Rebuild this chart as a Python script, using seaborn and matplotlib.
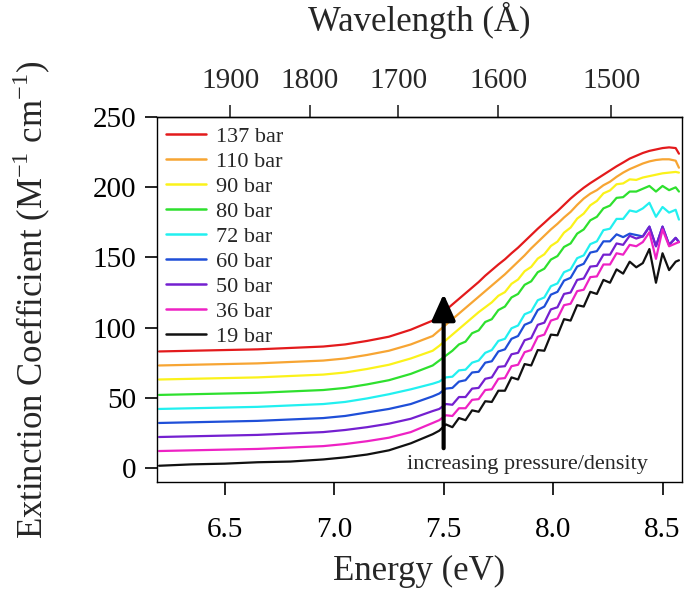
import numpy as np
import pandas as pd
import seaborn as sns
import matplotlib
matplotlib.use("Agg")
import matplotlib.pyplot as plt

# photon energy grid (eV)
energy = [6.20, 6.35, 6.50, 6.65, 6.80, 6.95, 7.05, 7.15, 7.25, 7.35,
          7.45, 7.48, 7.51, 7.54, 7.57, 7.60, 7.63, 7.66, 7.69, 7.72,
          7.75, 7.78, 7.81, 7.84, 7.87, 7.90, 7.93, 7.96, 7.99, 8.02,
          8.05, 8.08, 8.11, 8.14, 8.17, 8.20, 8.23, 8.26, 8.29, 8.32,
          8.35, 8.38, 8.41, 8.44, 8.47, 8.50, 8.53, 8.56, 8.575]

# extinction coefficient (M^-1 cm^-1), one list per pressure
eps_137 = [83, 83.5, 84, 84.5, 85.5, 86.5, 88, 90.5, 93.5, 98.5,
           105, 108.5, 112.5, 116.5, 120.5, 124.5, 128.5, 132.5, 137, 141,
           145, 148.7, 153, 157, 161.5, 166, 170.5, 174.7, 179, 183,
           187.5, 192, 196, 199.7, 203, 206, 209, 212, 215, 217.7,
           220.5, 222.5, 224.5, 226, 227, 228, 228.5, 228, 224]
eps_110 = [73, 73.5, 74, 74.5, 75.5, 76.5, 78, 80.5, 83.5, 88,
           94, 98, 102, 106, 110, 114, 118, 122, 126, 130,
           134, 138, 142.5, 147, 151.5, 156.5, 161, 165.5, 170, 174,
           178.5, 182.5, 187.5, 192, 195.5, 198, 201.5, 204, 207.5, 210.5,
           213, 215, 217, 218.5, 219.5, 220, 220, 219, 214]
eps_90 = [63, 63.5, 64, 64.5, 65.5, 66.5, 68, 70.5, 73.5, 78,
          83.5, 87, 91, 95, 99, 103, 107, 111, 114.5, 118,
          122.7, 125.3, 131.2, 134.3, 140.2, 143.3, 149.2, 152.3, 158.2, 161.3,
          167.7, 171.3, 177.7, 181.3, 187.2, 190.3, 195.7, 197.8, 202.2, 202.8,
          205.7, 205.3, 207, 208, 209, 210, 210.5, 211, 210.5]
eps_80 = [52, 52.5, 53, 53.5, 54.5, 55.5, 57, 59.5, 62.5, 67,
          73, 76.5, 80, 83.5, 88, 90, 96, 98, 104, 106,
          112.5, 115, 121.5, 124, 130.5, 133, 139.5, 142, 148.5, 151,
          157.5, 160, 167, 170, 176.5, 179, 185, 187, 192.5, 193,
          197, 197, 199, 201, 197, 201, 198, 200, 197]
eps_72 = [42, 42.5, 43, 43.5, 44.5, 45.5, 47, 49.5, 52.5, 56,
          60, 61.5, 64.5, 65, 69.5, 70, 75, 76.5, 82, 84,
          90.5, 92, 99.5, 101.5, 109.5, 111.5, 119.5, 121.5, 129.5, 131.5,
          139.5, 141.5, 149.5, 151.5, 159.5, 161.5, 169.5, 170.5, 177.5, 177.5,
          183.5, 182.5, 185, 189, 179, 186, 182, 184, 177]
eps_60 = [32, 32.5, 33, 33.5, 34.5, 35.5, 37, 39.5, 42, 45.5,
          51, 53, 56.5, 57, 61.5, 62.5, 68, 68.5, 75, 76,
          83, 84.5, 92, 94, 102, 104, 112.5, 115, 123.5, 125.5,
          133.5, 135.5, 143.5, 145.5, 153.5, 154.5, 161.5, 161.5, 166.5, 164.5,
          167, 166, 165, 172, 158, 172, 159, 164, 161]
eps_50 = [22, 22.5, 23, 23.5, 24.5, 25.5, 27, 29, 31.5, 35,
          40.5, 42, 45.5, 45, 50.5, 50.5, 56.5, 57, 63.5, 64.5,
          72, 72.5, 81, 82, 91, 92.5, 102, 103.5, 113, 114.5,
          124, 125, 134, 135, 143.5, 144, 152, 152, 160, 159,
          165.5, 163.5, 165, 172, 158, 172, 159, 164, 161]
eps_36 = [12, 12.5, 13, 13.5, 14.5, 15.5, 17, 19, 21.5, 25.5,
          32, 34, 37.5, 37, 42.5, 42.5, 48.5, 49, 55.5, 56,
          63.5, 64, 72.5, 73.5, 82.5, 84, 93.5, 95, 105, 106.5,
          116, 117, 126, 127, 136, 136.5, 145, 145, 153, 152,
          159, 158, 161, 168, 149, 170, 158, 160, 161]
eps_19 = [1.5, 2.5, 3, 4, 4.5, 6, 7.5, 9.5, 12.5, 17.5,
          24, 26.5, 31, 29, 35.5, 34, 41, 40, 47.5, 47,
          55, 55, 64.5, 63, 74, 73, 84, 83.5, 95, 94.5,
          106, 105, 116, 115, 125.5, 124, 134, 132, 141.5, 138.5,
          147, 143, 146, 156, 132, 153, 141, 147, 148]

labels = ["137 bar", "110 bar", "90 bar", "80 bar", "72 bar",
          "60 bar", "50 bar", "36 bar", "19 bar"]
series = [eps_137, eps_110, eps_90, eps_80, eps_72, eps_60, eps_50, eps_36, eps_19]
colors = ["#e31a1c", "#f7a533", "#fbf21a", "#2ee02e", "#22f0f0",
          "#1f4fd8", "#7420d0", "#ee22c4", "#111111"]

wave_ticks = [1900, 1800, 1700, 1600, 1500]

df = pd.concat([pd.DataFrame({"energy": energy, "eps": s, "pressure": lab})
                for s, lab in zip(series, labels)], ignore_index=True)

sns.set_style("ticks")
plt.rcParams["font.family"] = ["Liberation Serif", "DejaVu Serif"]
plt.rcParams["axes.linewidth"] = 1.0

fig = plt.figure(figsize=(6.85, 5.92), dpi=100)
ax = fig.add_axes([0.229, 0.186, 0.766, 0.616])

sns.lineplot(data=df, x="energy", y="eps", hue="pressure", hue_order=labels,
             palette=dict(zip(labels, colors)), sort=False, linewidth=1.6,
             estimator=None, ax=ax)

ax.set_xlim(6.19, 8.587)
ax.set_ylim(-10, 250)
ax.set_xticks([6.5, 7.0, 7.5, 8.0, 8.5])
ax.set_xticklabels(["6.5", "7.0", "7.5", "8.0", "8.5"])
ax.set_yticks([0, 50, 100, 150, 200, 250])
ax.tick_params(axis="both", direction="out", length=9, width=1.2,
               labelsize=21, colors="black", pad=6)
ax.tick_params(axis="x", pad=16)
for sp in ax.spines.values():
    sp.set_visible(True)
    sp.set_color("black")

ax.set_xlabel("Energy (eV)", fontsize=25, labelpad=9)
ax.set_ylabel("Extinction Coefficient (M$^{\\mathregular{-1}}$ cm$^{\\mathregular{-1}}$)",
              fontsize=25, labelpad=28)


def e2w(e):
    e = np.asarray(e, dtype=float)
    return 12398.4 / np.where(e == 0, 1e-9, e)


top = ax.secondary_xaxis("top", functions=(e2w, e2w))
top.set_xticks(wave_ticks)
top.tick_params(direction="out", length=9, width=1.2, labelsize=21, pad=8)
top.set_xlabel("Wavelength (Å)", fontsize=25, labelpad=26)

ax.annotate("", xy=(7.5, 124), xytext=(7.5, 14),
            arrowprops=dict(arrowstyle="-|>,head_length=0.4,head_width=0.18",
                            mutation_scale=40, lw=3, color="black",
                            shrinkA=0, shrinkB=0))
ax.text(7.332, -1, "increasing pressure/density", fontsize=16, va="baseline")

leg = ax.legend(loc="upper left", frameon=False, fontsize=16, handlelength=1.8,
                handletextpad=0.45, labelspacing=0.2, borderaxespad=0.2,
                borderpad=0.2)
for line in leg.get_lines():
    line.set_linewidth(1.8)

fig.savefig("out.png", dpi=100)
